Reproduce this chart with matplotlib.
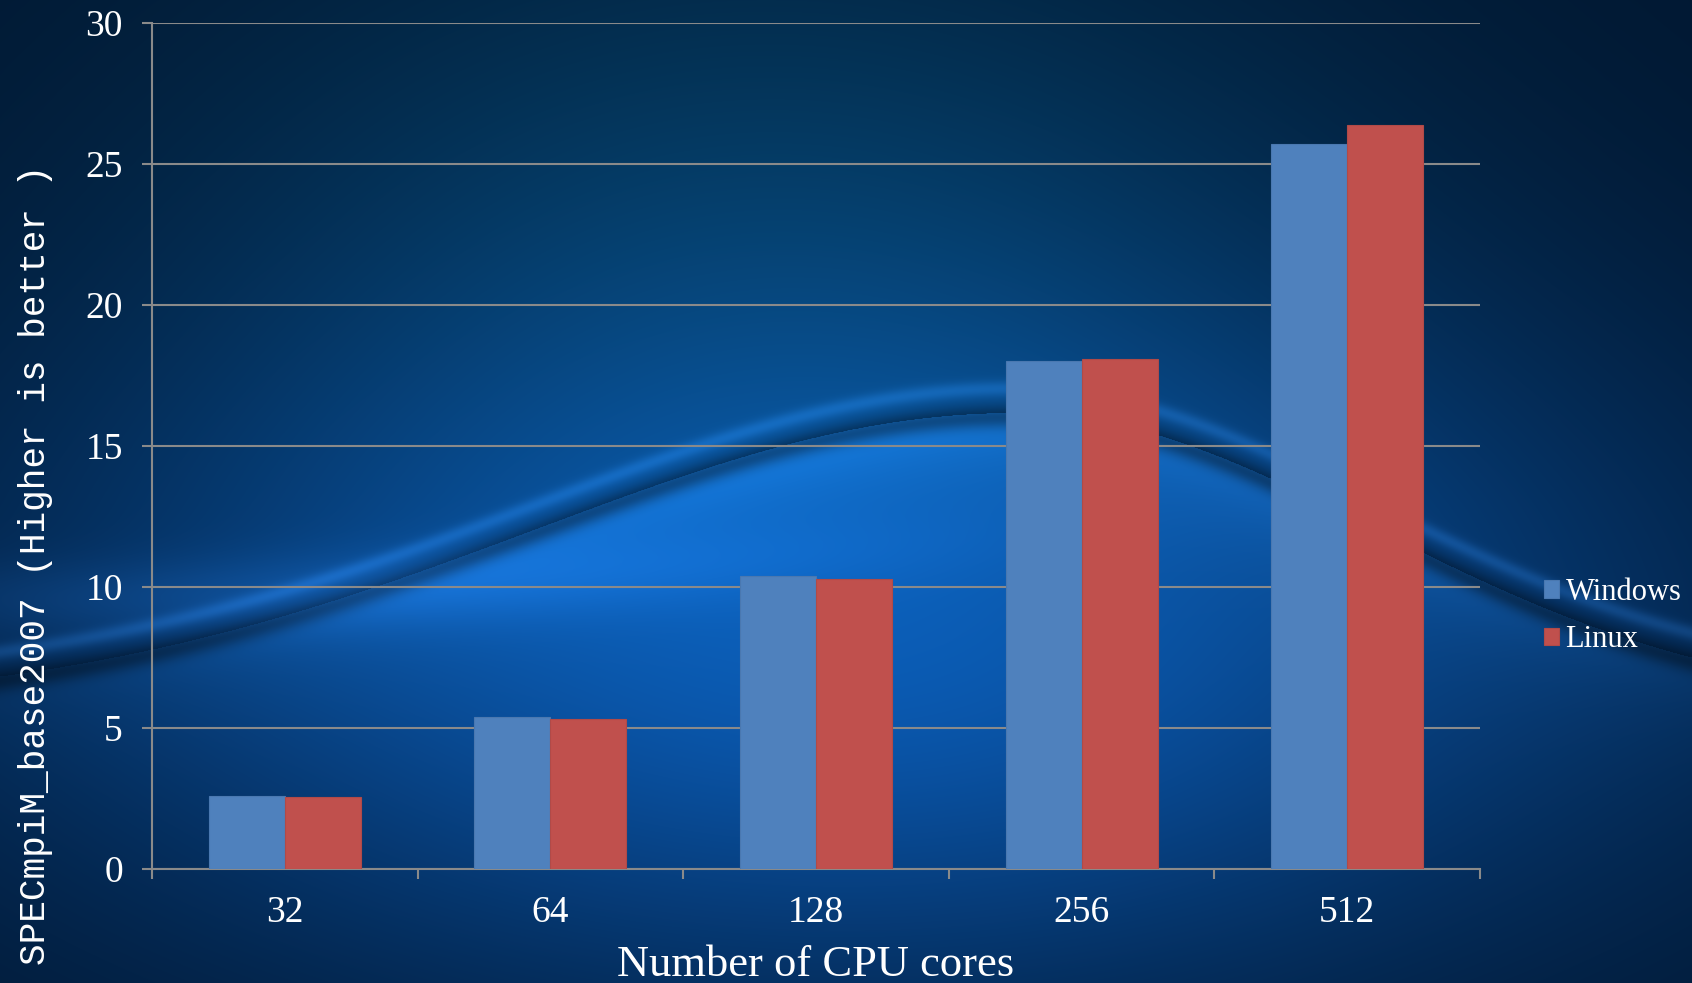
import numpy as np
import matplotlib
matplotlib.use('Agg')
import matplotlib.pyplot as plt

# data
cores = ['32', '64', '128', '256', '512']
windows = [2.6, 5.4, 10.4, 18.0, 25.7]
linux = [2.55, 5.32, 10.28, 18.1, 26.4]

W, H = 1692, 983
fig = plt.figure(figsize=(W / 100, H / 100), dpi=100)

# background: dark blue gradient with a swoosh
yy, xx = np.mgrid[0:1:H * 1j, 0:1:W * 1j]
dark = np.array([0.005, 0.09, 0.19])
bright = np.array([0.04, 0.34, 0.68])
teal = np.array([0.02, 0.27, 0.42])
glow = np.exp(-(((xx - 0.5) / 0.46) ** 2 + ((yy - 0.66) / 0.36) ** 2))
glow2 = np.exp(-(((xx - 0.45) / 0.35) ** 2 + ((yy - 0.2) / 0.35) ** 2))
img = dark + (bright - dark) * glow[..., None]
img = img + (teal - dark) * 0.6 * glow2[..., None]

sig = np.where(xx < 0.6, 0.4, 0.3)
yw = 0.72 - 0.30 * np.exp(-((xx - 0.6) / sig) ** 2)
d = yy - yw
# glow under the curve
under = np.where(d > 0, np.exp(-d / 0.07), 0.0) * np.exp(-((xx - 0.55) / 0.45) ** 2)
img = img + np.array([0.06, 0.18, 0.30]) * under[..., None]
# thin light line above
img = img + np.array([0.08, 0.16, 0.25]) * 0.6 * np.exp(-((d + 0.025) / 0.008) ** 2)[..., None]
# dark band
img = img * (1 - 0.4 * np.exp(-((d - 0.004) / 0.012) ** 2))[..., None]
# faint secondary band on the left
yb = 0.56 + 0.05 * np.cos(xx * 3)
band = np.exp(-((yy - yb) / 0.04) ** 2) * np.exp(-((xx - 0.2) / 0.3) ** 2)
img = img + np.array([0.03, 0.07, 0.12]) * band[..., None]
img = np.clip(img, 0, 1)

bg = fig.add_axes([0, 0, 1, 1])
bg.imshow(img, aspect='auto', extent=[0, 1, 0, 1], origin='upper')
bg.axis('off')
bg.set_zorder(0)

ax = fig.add_axes([152 / W, 114 / H, 1328 / W, 846 / H])
ax.set_zorder(1)
ax.patch.set_alpha(0)

x = np.arange(len(cores))
w = 0.286
ax.bar(x - w / 2, windows, w, color='#4f81bd', edgecolor='#4a78b0', linewidth=0.8, label='Windows', zorder=3)
ax.bar(x + w / 2, linux, w, color='#c0504d', edgecolor='#b04a48', linewidth=0.8, label='Linux', zorder=3)

ax.set_xlim(-0.5, len(cores) - 0.5)
ax.set_ylim(0, 30)
ax.set_yticks(range(0, 31, 5))
ax.set_xticks(x)
ax.set_xticklabels(cores)
ax.set_xticks(np.arange(-0.5, len(cores)), minor=True)

gray = '#8a8a8a'
ax.grid(axis='y', color=gray, linewidth=1.5, zorder=0)
ax.set_axisbelow(True)
ax.spines['top'].set_visible(False)
ax.spines['right'].set_visible(False)
ax.spines['left'].set_color(gray)
ax.spines['bottom'].set_color(gray)
ax.spines['left'].set_linewidth(1.5)
ax.spines['bottom'].set_linewidth(1.5)

ax.tick_params(axis='y', length=7, width=1.5, color=gray, pad=14, labelcolor='white')
ax.tick_params(axis='x', which='major', length=0, pad=19, labelcolor='white')
ax.tick_params(axis='x', which='minor', length=7, width=1.5, color=gray)
for lab in ax.get_xticklabels() + ax.get_yticklabels():
    lab.set_fontfamily('Liberation Serif')
    lab.set_fontsize(27)

ax.set_xlabel('Number of CPU cores', fontfamily='Liberation Serif', fontsize=32, color='white', va='top')
ax.xaxis.set_label_coords(0.5, -0.09)
ax.set_ylabel('SPECmpiM_base2007 (Higher is better )', fontfamily='Liberation Mono', fontsize=26,
              color='white', va='center')
ax.yaxis.set_label_coords(-0.088, 0.36)

leg = ax.legend(loc='center left', bbox_to_anchor=(1544 / W, 1 - 616 / H), bbox_transform=fig.transFigure,
                frameon=False, handlelength=0.5, handleheight=0.5, handletextpad=0.2, labelspacing=0.6,
                borderpad=0, borderaxespad=0, prop={'family': 'Liberation Serif', 'size': 22})
for t in leg.get_texts():
    t.set_color('white')

fig.savefig('out.png', dpi=100)
